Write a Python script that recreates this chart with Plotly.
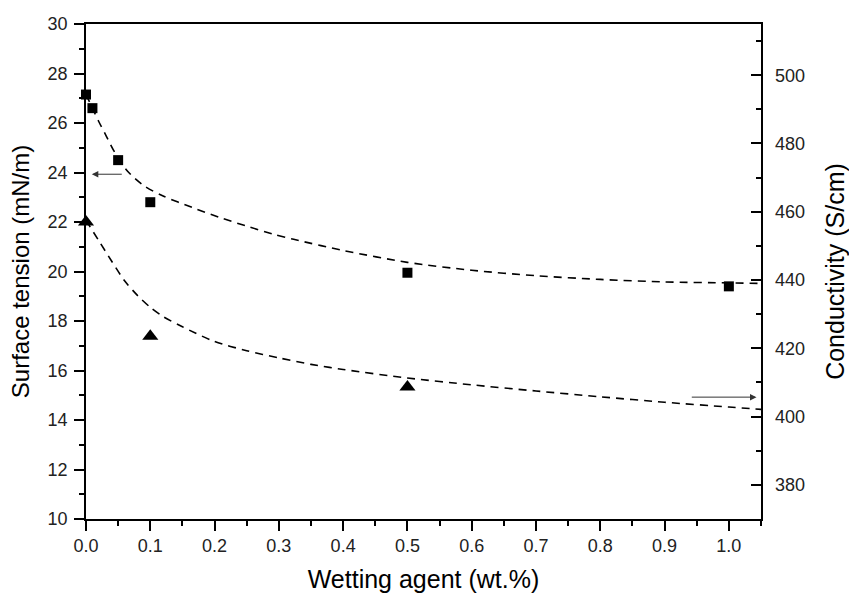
import plotly.graph_objects as go

# Measured data
st_x = [0.0, 0.01, 0.05, 0.1, 0.5, 1.0]
st_y = [27.15, 26.6, 24.5, 22.8, 19.95, 19.4]          # Surface tension (mN/m)

cond_x = [0.0, 0.1, 0.5]
cond_y = [457.0, 423.5, 408.7]                          # Conductivity (S/cm)

# Dashed fitted curves
fit_st_x = [0.0, 0.01, 0.02, 0.03, 0.045, 0.064, 0.09, 0.12, 0.165, 0.207, 0.248, 0.29, 0.323, 0.4, 0.5, 0.6, 0.7, 0.8, 0.9, 1.0, 1.05]
fit_st_y = [27.15, 26.6, 26.05, 25.55, 24.8, 24.07, 23.47, 23.05, 22.59, 22.19, 21.85, 21.52, 21.3, 20.85, 20.37, 20.05, 19.83, 19.68, 19.58, 19.54, 19.52]

fit_c_x = [0.0, 0.02, 0.04, 0.06, 0.08, 0.1, 0.12, 0.15, 0.2, 0.25, 0.3, 0.35, 0.4, 0.5, 0.6, 0.7, 0.8, 0.9, 1.0, 1.05]
fit_c_y = [457.5, 451.5, 445.5, 439.8, 435.5, 432.0, 429.3, 426.3, 422.0, 419.3, 417.2, 415.3, 413.8, 411.3, 409.3, 407.5, 405.8, 404.2, 402.8, 402.1]

FONT = "Arial, Liberation Sans, Helvetica, sans-serif"

fig = go.Figure()

fig.add_trace(go.Scatter(x=fit_st_x, y=fit_st_y, mode="lines", line=dict(color="black", width=1.6, dash="8px,6px", shape="spline", smoothing=0.8),
                         showlegend=False, hoverinfo="skip", cliponaxis=False))
fig.add_trace(go.Scatter(x=fit_c_x, y=fit_c_y, mode="lines", yaxis="y2", line=dict(color="black", width=1.6, dash="8px,6px", shape="spline", smoothing=0.8),
                         showlegend=False, hoverinfo="skip", cliponaxis=False))
fig.add_trace(go.Scatter(x=st_x, y=st_y, mode="markers", marker=dict(symbol="square", size=10, color="black"),
                         showlegend=False, cliponaxis=False))
fig.add_trace(go.Scatter(x=cond_x, y=cond_y, mode="markers", yaxis="y2", marker=dict(symbol="triangle-up", size=14, color="black"),
                         showlegend=False, cliponaxis=False))

# Arrows
fig.add_annotation(x=0.009, y=23.93, ax=0.058, ay=23.93, xref="x", yref="y", axref="x", ayref="y",
                   text="", showarrow=True, arrowhead=2, arrowsize=1.3, arrowwidth=1, arrowcolor="#333")
fig.add_annotation(x=1.043, y=405.7, ax=0.94, ay=405.7, xref="x", yref="y2", axref="x", ayref="y2",
                   text="", showarrow=True, arrowhead=2, arrowsize=1.3, arrowwidth=1, arrowcolor="#333")

fig.update_layout(
    width=849, height=595,
    margin=dict(l=86, r=88, t=24, b=76),
    paper_bgcolor="white", plot_bgcolor="white",
    font=dict(family=FONT, color="black", size=18),
    xaxis=dict(range=[0, 1.05], tick0=0, dtick=0.1, tickformat=".1f", automargin=False,
               ticks="outside", ticklen=10, tickwidth=1.5, tickcolor="black",
               minor=dict(dtick=0.05, ticks="outside", ticklen=5, tickwidth=1.5, tickcolor="black"),
               showline=True, linecolor="black", linewidth=1.5, mirror=True,
               showgrid=False, zeroline=False,
               title=dict(text="Wetting agent (wt.%)", font=dict(size=25), standoff=15),
               tickfont=dict(size=18, color="#222")),
    yaxis=dict(range=[10, 30], tick0=10, dtick=2, automargin=False,
               ticks="outside", ticklen=10, tickwidth=1.5, tickcolor="black",
               minor=dict(dtick=1, ticks="outside", ticklen=5, tickwidth=1.5, tickcolor="black"),
               showline=True, linecolor="black", linewidth=1.5,
               showgrid=False, zeroline=False, ticklabelstandoff=3,
               title=dict(text="Surface tension (mN/m)", font=dict(size=24), standoff=11),
               tickfont=dict(size=18, color="#222")),
    yaxis2=dict(range=[370, 515], tick0=380, dtick=20, overlaying="y", side="right", automargin=False,
                ticks="inside", ticklen=10, tickwidth=1.5, tickcolor="black",
                minor=dict(dtick=10, ticks="inside", ticklen=5, tickwidth=1.5, tickcolor="black"),
                showline=True, linecolor="black", linewidth=1.5,
                showgrid=False, zeroline=False, tickprefix="\u00a0\u2009",
                title=dict(text="Conductivity (S/cm)", font=dict(size=25), standoff=23),
                tickfont=dict(size=18, color="#222")),
)

fig.write_html("out.html", config={"displayModeBar": False},
               post_script="document.body.style.margin='0';document.body.style.padding='0';")
